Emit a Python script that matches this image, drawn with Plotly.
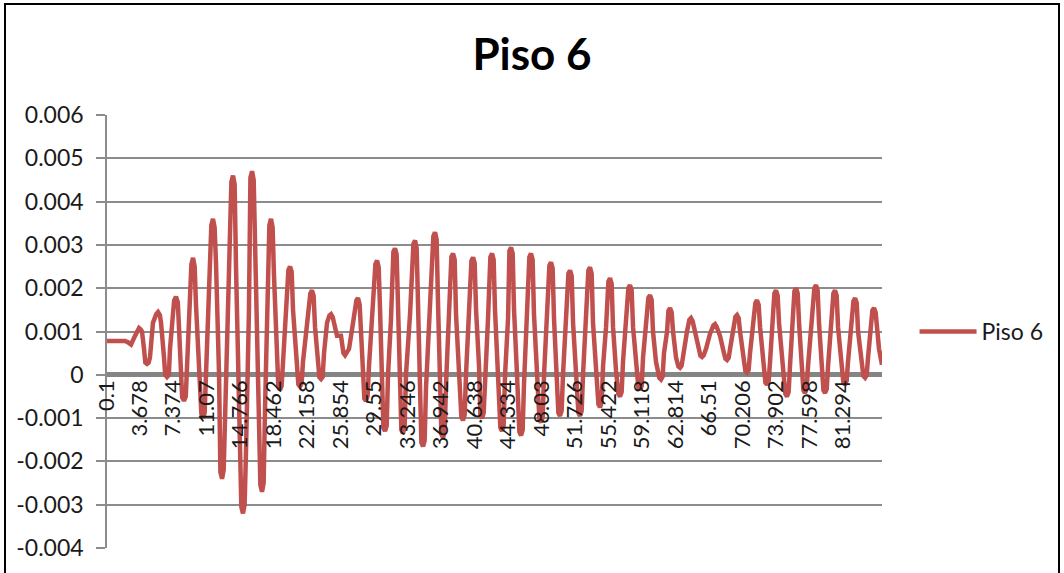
import plotly.graph_objects as go

# Time (s) and response values (x 0.001 m)
time_s = [
    0.10, 2.09, 2.42, 2.75, 3.08, 3.45, 3.63, 3.80,
    3.96, 4.18, 4.33, 4.51, 4.69, 4.84, 5.17, 5.53,
    5.73, 5.93, 6.06, 6.39, 6.52, 6.72, 6.92, 7.05,
    7.38, 7.51, 7.71, 7.91, 8.04, 8.26, 8.39, 8.59,
    8.79, 8.93, 9.26, 9.41, 9.59, 9.77, 9.92, 10.25,
    10.51, 10.69, 10.87, 11.02, 11.35, 11.61, 11.79, 11.97,
    12.12, 12.46, 12.61, 12.79, 12.97, 13.12, 13.45, 13.82,
    14.00, 14.18, 14.33, 14.66, 14.92, 15.10, 15.28, 15.43,
    15.76, 15.92, 16.10, 16.28, 16.43, 16.76, 17.02, 17.20,
    17.38, 17.53, 17.86, 18.01, 18.19, 18.37, 18.52, 18.85,
    19.00, 19.18, 19.36, 19.52, 19.85, 20.11, 20.29, 20.47,
    20.62, 20.95, 21.21, 21.39, 21.57, 21.72, 22.16, 22.53,
    22.71, 22.89, 23.05, 23.38, 23.53, 23.71, 23.89, 24.04,
    24.37, 24.63, 24.81, 24.99, 25.14, 25.47, 25.91, 26.18,
    26.36, 26.54, 26.80, 27.24, 27.61, 27.79, 27.97, 28.12,
    28.34, 28.49, 28.67, 28.85, 29.00, 29.44, 29.71, 29.89,
    30.07, 30.22, 30.45, 30.59, 30.77, 30.95, 31.10, 31.43,
    31.69, 31.87, 32.05, 32.20, 32.42, 32.57, 32.75, 32.93,
    33.08, 33.53, 33.90, 34.08, 34.26, 34.41, 34.63, 34.78,
    34.96, 35.14, 35.29, 35.73, 36.10, 36.28, 36.46, 36.61,
    36.83, 36.99, 37.17, 37.35, 37.50, 37.83, 38.09, 38.27,
    38.45, 38.60, 38.93, 39.19, 39.37, 39.55, 39.70, 40.03,
    40.30, 40.48, 40.66, 40.81, 41.14, 41.29, 41.47, 41.65,
    41.80, 42.13, 42.39, 42.57, 42.75, 42.90, 43.23, 43.49,
    43.67, 43.85, 44.01, 44.34, 44.49, 44.67, 44.85, 45.00,
    45.33, 45.59, 45.77, 45.95, 46.10, 46.43, 46.69, 46.87,
    47.05, 47.20, 47.54, 47.80, 47.98, 48.16, 48.31, 48.64,
    48.90, 49.08, 49.26, 49.41, 49.74, 49.89, 50.07, 50.25,
    50.40, 50.73, 51.00, 51.18, 51.36, 51.51, 51.84, 52.10,
    52.28, 52.46, 52.61, 52.94, 53.20, 53.38, 53.56, 53.71,
    54.04, 54.31, 54.49, 54.67, 54.82, 55.15, 55.41, 55.59,
    55.77, 55.92, 56.25, 56.51, 56.69, 56.87, 57.02, 57.35,
    57.61, 57.79, 57.97, 58.13, 58.46, 58.72, 58.90, 59.08,
    59.23, 59.56, 59.82, 60.00, 60.18, 60.33, 60.66, 61.03,
    61.21, 61.39, 61.54, 61.88, 62.03, 62.21, 62.39, 62.54,
    62.87, 63.13, 63.31, 63.49, 63.75, 64.08, 64.34, 64.52,
    64.70, 64.96, 65.41, 65.56, 65.74, 65.92, 66.18, 66.62,
    66.99, 67.17, 67.35, 67.72, 68.16, 68.32, 68.50, 68.68,
    68.83, 69.16, 69.42, 69.60, 69.78, 69.93, 70.26, 70.52,
    70.70, 70.88, 71.03, 71.36, 71.62, 71.80, 71.98, 72.14,
    72.47, 72.73, 72.91, 73.09, 73.24, 73.57, 73.72, 73.90,
    74.08, 74.23, 74.56, 74.93, 75.11, 75.29, 75.44, 75.78,
    75.93, 76.11, 76.29, 76.44, 76.77, 76.92, 77.10, 77.28,
    77.43, 77.87, 78.13, 78.31, 78.49, 78.64, 78.97, 79.13,
    79.31, 79.49, 79.64, 79.97, 80.23, 80.41, 80.59, 80.74,
    81.07, 81.33, 81.51, 81.69, 81.84, 82.17, 82.44, 82.62,
    82.80, 82.95, 83.28, 83.54, 83.72, 83.90, 84.05, 84.38,
    84.53, 84.71, 84.89, 85.04, 85.26, 85.59,
]

piso6_milli = [
    0.78, 0.78, 0.75, 0.70, 0.85, 1.05, 1.08, 1.05,
    1.00, 0.60, 0.28, 0.25, 0.28, 0.40, 1.20, 1.40,
    1.45, 1.38, 1.20, 0.40, 0.00, -0.05, 0.00, 0.60,
    1.40, 1.72, 1.80, 1.68, 1.10, 0.20, -0.52, -0.60,
    -0.50, 0.20, 1.60, 2.55, 2.70, 2.50, 1.60, 0.30,
    -0.90, -1.00, -0.88, 0.00, 1.80, 3.45, 3.60, 3.40,
    2.60, 0.00, -2.25, -2.40, -2.20, -1.00, 1.50, 4.45,
    4.60, 4.40, 2.50, -1.00, -3.05, -3.20, -3.00, -1.80,
    1.50, 4.55, 4.70, 4.50, 2.80, -0.50, -2.55, -2.70,
    -2.50, -0.80, 2.00, 3.45, 3.60, 3.40, 2.30, 0.50,
    -0.28, -0.35, -0.26, 0.30, 1.70, 2.42, 2.50, 2.38,
    1.50, 0.40, -0.22, -0.27, -0.20, 0.30, 1.30, 1.88,
    1.95, 1.83, 1.10, 0.20, -0.06, -0.10, -0.05, 0.50,
    1.20, 1.37, 1.40, 1.34, 1.20, 0.90, 0.90, 0.50,
    0.45, 0.50, 0.60, 1.20, 1.72, 1.77, 1.62, 1.00,
    0.00, -0.55, -0.60, -0.48, 0.20, 1.60, 2.56, 2.64,
    2.48, 1.50, 0.20, -1.22, -1.30, -1.18, 0.00, 1.30,
    2.84, 2.92, 2.78, 1.50, 0.50, -1.27, -1.35, -1.22,
    0.00, 1.40, 3.02, 3.10, 2.93, 1.60, 0.40, -1.57,
    -1.65, -1.52, -0.30, 1.40, 3.20, 3.29, 3.13, 1.70,
    0.30, -1.37, -1.45, -1.32, -0.20, 1.30, 2.72, 2.80,
    2.66, 1.40, 0.20, -0.98, -1.05, -0.93, 0.00, 1.30,
    2.63, 2.71, 2.58, 1.50, 0.20, -0.93, -1.00, -0.88,
    0.00, 1.30, 2.72, 2.80, 2.66, 1.50, 0.00, -1.22,
    -1.30, -1.18, 0.00, 1.30, 2.86, 2.94, 2.80, 1.50,
    0.00, -1.32, -1.40, -1.28, -0.20, 1.30, 2.72, 2.80,
    2.66, 1.40, 0.10, -1.03, -1.10, -0.98, 0.00, 1.20,
    2.52, 2.60, 2.46, 1.30, 0.10, -0.88, -0.95, -0.83,
    0.00, 1.20, 2.34, 2.41, 2.28, 1.20, 0.00, -0.88,
    -0.95, -0.83, 0.00, 1.20, 2.41, 2.48, 2.34, 1.20,
    0.00, -0.68, -0.75, -0.63, 0.20, 1.10, 2.16, 2.23,
    2.10, 1.10, 0.10, -0.44, -0.50, -0.40, 0.30, 1.10,
    2.00, 2.07, 1.96, 1.10, 0.20, -0.30, -0.35, -0.26,
    0.40, 1.10, 1.78, 1.84, 1.73, 1.00, 0.30, -0.07,
    -0.11, -0.04, 0.50, 1.00, 1.48, 1.54, 1.44, 1.00,
    0.40, 0.19, 0.16, 0.21, 0.60, 1.00, 1.27, 1.31,
    1.24, 1.00, 0.60, 0.44, 0.41, 0.45, 0.60, 0.95,
    1.14, 1.17, 1.11, 0.90, 0.50, 0.37, 0.34, 0.39,
    0.60, 1.00, 1.34, 1.38, 1.31, 1.00, 0.50, 0.09,
    0.05, 0.11, 0.50, 1.20, 1.66, 1.72, 1.62, 1.10,
    0.40, -0.18, -0.23, -0.14, 0.30, 1.30, 1.88, 1.95,
    1.83, 1.20, 0.30, -0.44, -0.50, -0.40, 0.20, 1.30,
    1.93, 2.00, 1.88, 1.20, 0.20, -0.36, -0.42, -0.33,
    0.20, 1.30, 2.00, 2.07, 1.95, 1.20, 0.20, -0.36,
    -0.42, -0.33, 0.20, 1.20, 1.88, 1.95, 1.83, 1.10,
    0.30, -0.18, -0.23, -0.14, 0.30, 1.10, 1.70, 1.77,
    1.66, 1.00, 0.30, -0.03, -0.07, -0.01, 0.40, 1.20,
    1.49, 1.54, 1.44, 1.10, 0.60, 0.23,
]
piso6 = [v / 1000.0 for v in piso6_milli]

x_tick_vals = [0.1, 3.678, 7.374, 11.07, 14.766, 18.462, 22.158, 25.854, 29.55, 33.246, 36.942,
               40.638, 44.334, 48.03, 51.726, 55.422, 59.118, 62.814, 66.51, 70.206, 73.902,
               77.598, 81.294]
x_tick_text = ["0.1", "3.678", "7.374", "11.07", "14.766", "18.462", "22.158", "25.854", "29.55",
               "33.246", "36.942", "40.638", "44.334", "48.03", "51.726", "55.422", "59.118",
               "62.814", "66.51", "70.206", "73.902", "77.598", "81.294"]
y_tick_vals = [0.006, 0.005, 0.004, 0.003, 0.002, 0.001, 0.0, -0.001, -0.002, -0.003, -0.004]
y_tick_text = ["0.006", "0.005", "0.004", "0.003", "0.002", "0.001", "0", "-0.001", "-0.002",
               "-0.003", "-0.004"]

FONT = "Lato"
GRID = "#8c8c8c"
TEXT = "#1a1a1a"

fig = go.Figure()
fig.add_trace(go.Scatter(
    x=time_s, y=piso6, mode="lines", name="Piso 6",
    line=dict(color="#C0504D", width=4.5),
))

fig.update_layout(
    width=1064, height=573,
    margin=dict(l=107, r=182, t=115, b=25, autoexpand=False),
    paper_bgcolor="white", plot_bgcolor="white",
    font=dict(family=FONT, size=22, color=TEXT),
    title=dict(text="<b>Piso 6</b>", x=0.5, xref="container", xanchor="center",
               y=1 - 55 / 573, yref="container", yanchor="middle",
               font=dict(family=FONT, size=44, color="black")),
    showlegend=True,
    legend=dict(x=1.042, xanchor="left", y=0.5, yanchor="middle",
                font=dict(family=FONT, size=23, color=TEXT),
                bgcolor="rgba(0,0,0,0)", itemwidth=57),
    xaxis=dict(range=[0.1, 85.59], tickvals=x_tick_vals, ticktext=x_tick_text,
               tickangle=-90, showgrid=False, zeroline=False, showline=False,
               anchor="free", position=0.4, ticks="",
               tickfont=dict(family=FONT, size=22, color=TEXT)),
    yaxis=dict(range=[-0.004, 0.006], tickvals=y_tick_vals, ticktext=y_tick_text,
               showgrid=True, gridcolor=GRID, gridwidth=1.5,
               zeroline=True, zerolinecolor="#858585", zerolinewidth=5,
               showline=True, linecolor=GRID, linewidth=1.5,
               ticks="outside", ticklen=9, tickcolor=GRID, tickwidth=1.5,
               ticklabelstandoff=8,
               tickfont=dict(family=FONT, size=23, color=TEXT)),
    shapes=[dict(type="rect", xref="paper", yref="paper",
                 x0=(5 - 107) / 775, x1=(1059 - 107) / 775,
                 y0=(548 - 590) / 433, y1=(548 - 4) / 433,
                 line=dict(color="black", width=2), fillcolor="rgba(0,0,0,0)")],
)

fig.write_html("out.html", config={"displayModeBar": False},
               post_script="document.body.style.margin='0px';")
